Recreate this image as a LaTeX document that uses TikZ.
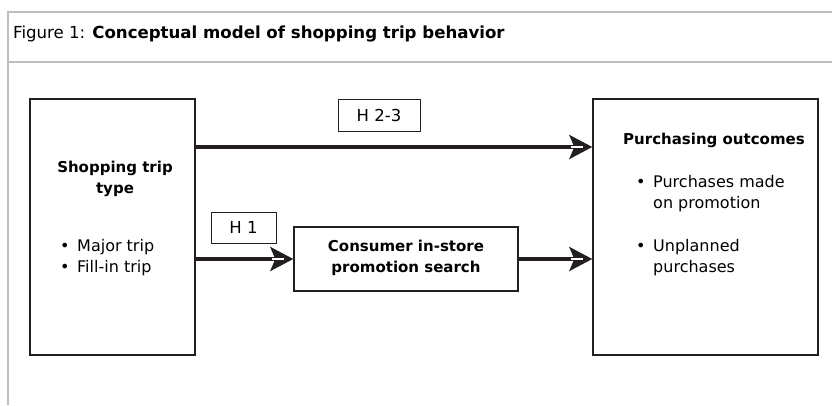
\documentclass[tikz,border=0pt]{standalone}
\usepackage{fontspec}
\setmainfont{DejaVu Sans}
\usetikzlibrary{arrows.meta}
\definecolor{ink}{HTML}{231F20}
\definecolor{rulegray}{HTML}{BEBEBE}
\begin{document}
\begin{tikzpicture}[x=1pt,y=-1pt,
  frameline/.style={draw=rulegray, line width=2.5pt},
  box/.style={draw=ink, line width=1.4pt, fill=white, inner sep=0pt},
  tag/.style={draw=ink, line width=1pt, inner sep=0pt, font=\fontsize{16.5}{20}\selectfont},
  head/.style={inner sep=0pt, anchor=base, font=\bfseries\fontsize{15}{18}\selectfont},
  item/.style={inner sep=0pt, anchor=base west, font=\fontsize{16}{20}\selectfont},
  conn/.style={draw=ink, line width=3.5pt, -{Stealth[length=23pt,width=24pt,inset=5pt]}},
  notch/.style={draw=white, line width=1.4pt}
]
\useasboundingbox (0,0) rectangle (832,405);

% frame of the figure
\draw[frameline] (832,12) -- (8,12) -- (8,405);
\draw[frameline] (8,62) -- (832,62);
\node[anchor=base west, inner sep=0pt, font=\fontsize{16.6}{20}\selectfont] (title) at (13,38)
  {Figure 1: \textbf{Conceptual model of shopping trip behavior}};

% boxes
\node[box, minimum width=165pt, minimum height=256pt] (trip) at (112.5,227) {};
\node[box, minimum width=225pt, minimum height=256pt] (outc) at (705.5,227) {};
\node[box, minimum width=224pt, minimum height=64pt] (search) at (406,259) {};
\node[tag, minimum width=82pt, minimum height=32pt] (h23) at (379,115) {H 2-3};
\node[tag, minimum width=65pt, minimum height=31pt] (h1) at (243.5,227.5) {H 1};

% box texts
\node[head] (tripA) at (115,172) {Shopping trip};
\node[head] (tripB) at (115,193) {type};
\node[item] (tb1) at (60,251) {•};
\node[item] (tt1) at (77,251) {Major trip};
\node[item] (tb2) at (60,272) {•};
\node[item] (tt2) at (77,272) {Fill-in trip};

\node[head] (srchA) at (406,251) {Consumer in-store};
\node[head] (srchB) at (406,272) {promotion search};

\node[head, anchor=base west] (outA) at (623,144) {Purchasing outcomes};
\node[item] (ob1) at (636,187) {•};
\node[item] (ot1) at (653,187) {Purchases made};
\node[item] (ot1b) at (653,208) {on promotion};
\node[item] (ob2) at (636,251) {•};
\node[item] (ot2) at (653,251) {Unplanned};
\node[item] (ot2b) at (653,272) {purchases};

% connectors
\coordinate (r1) at (0,147);
\coordinate (s1) at (trip.east |- r1);
\coordinate (e1) at (outc.west |- r1);
\coordinate (s2) at (trip.east |- search.west);
\coordinate (e3) at (outc.west |- search.east);
\draw[conn] (s1) -- (e1);
\draw[conn] (s2) -- (search.west);
\draw[conn] (search.east) -- (e3);
\draw[notch] ([xshift=-21pt]e1) -- ([xshift=-9pt]e1);
\draw[notch] ([xshift=-21pt]search.west) -- ([xshift=-9pt]search.west);
\draw[notch] ([xshift=-21pt]e3) -- ([xshift=-9pt]e3);
\end{tikzpicture}
\end{document}
